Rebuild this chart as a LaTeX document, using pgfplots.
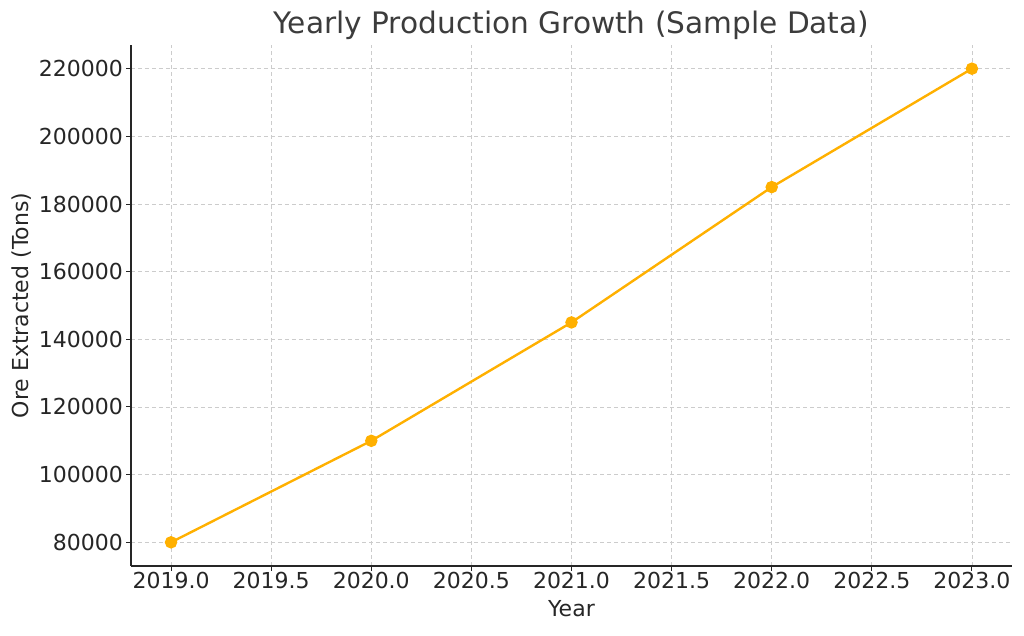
\documentclass[border=0pt]{standalone}
\usepackage{fontspec}
\setmainfont{DejaVu Sans}
\usepackage{pgfplots}
\pgfplotsset{compat=1.18}
\definecolor{lineorange}{RGB}{255,176,0}
\definecolor{txt}{RGB}{38,38,38}
\definecolor{gridc}{RGB}{204,204,204}
\begin{document}
\begin{tikzpicture}
\path (-65.5pt,-35pt) rectangle (446.5pt,283pt);
\begin{axis}[
  at={(0,0)}, anchor=south west,
  scale only axis, width=440.5pt, height=260.5pt,
  xmin=2018.8, xmax=2023.2, ymin=73000, ymax=227000,
  axis x line*=bottom, axis y line*=left,
  axis line style={-, draw=txt, line width=0.6pt},
  xtick={2019,2019.5,2020,2020.5,2021,2021.5,2022,2022.5,2023},
  ytick={80000,100000,120000,140000,160000,180000,200000,220000},
  scaled y ticks=false, scaled x ticks=false,
  xticklabel style={/pgf/number format/fixed, /pgf/number format/fixed zerofill, /pgf/number format/precision=1, /pgf/number format/1000 sep={}, yshift=3pt},
  yticklabel style={/pgf/number format/fixed, /pgf/number format/1000 sep={}, xshift=2pt},
  /pgf/number format/assume math mode=true,
  tick align=outside, major tick length=2.5pt,
  tick style={draw=txt, line width=0.5pt},
  ticklabel style={font=\fontsize{11}{13}\selectfont, text=txt},
  grid=major,
  major grid style={gridc, dashed, dash pattern=on 2pt off 1.5pt, line width=0.4pt},
  every axis title shift=0pt,
  title={Yearly Production Growth (Sample Data)},
  title style={at={(axis description cs:0.5,1)}, anchor=center, yshift=10pt, font=\fontsize{14.8}{17}\selectfont, text=txt!90!white},
  xlabel={Year},
  xlabel style={at={(axis description cs:0.5,0)}, anchor=center, yshift=-21.5pt, font=\fontsize{11}{13}\selectfont, text=txt},
  ylabel={Ore Extracted (Tons)},
  ylabel style={at={(axis description cs:0,0.5)}, anchor=center, yshift=54.5pt, font=\fontsize{11}{13}\selectfont, text=txt},
  clip=false,
]
\addplot[lineorange, line width=1.2pt, mark=*, mark size=2.5pt, mark options={fill=lineorange, draw=lineorange}]
  coordinates {(2019,80000) (2020,110000) (2021,145000) (2022,185000) (2023,220000)};
\end{axis}
\end{tikzpicture}
\end{document}
